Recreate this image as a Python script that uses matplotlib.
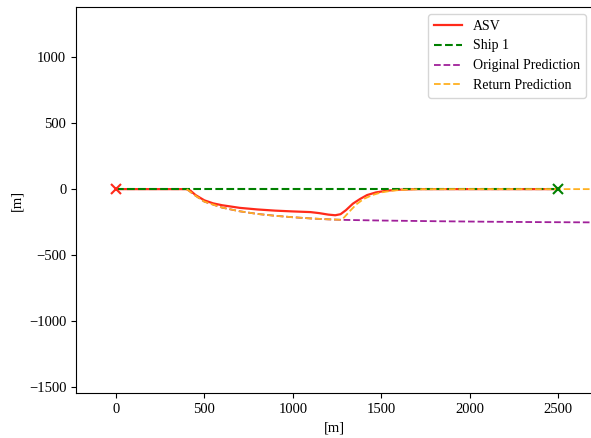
import numpy as np
import matplotlib
matplotlib.use("Agg")
import matplotlib.pyplot as plt

plt.rcParams['font.family'] = ['Liberation Serif', 'DejaVu Serif']
plt.rcParams['font.size'] = 10.5

# ASV trajectory
asv_x = [0, 100, 200, 300, 400, 420, 450, 500, 550, 600, 700, 800, 900, 1000, 1100, 1150, 1200, 1240, 1270,
         1300, 1340, 1380, 1420, 1470, 1530, 1600, 1700, 1900, 2100, 2300, 2500]
asv_y = [0, 0, 0, 0, 0, -10, -45, -85, -108, -122, -142, -154, -163, -169, -174, -182, -193, -198, -190,
         -160, -110, -75, -45, -25, -12, -4, 0, 0, 0, 0, 0]

# Ship 1 straight track
ship_x = [0, 2500]
ship_y = [0, 0]

# Original prediction
orig_x = [400, 450, 500, 600, 700, 800, 900, 1000, 1100, 1200, 1280, 1500, 1800, 2100, 2400, 2700]
orig_y = [0, -50, -95, -140, -168, -188, -202, -213, -222, -229, -233, -238, -243, -247, -250, -252]

# Return prediction
ret_x = [400, 450, 500, 600, 700, 800, 900, 1000, 1100, 1200, 1270, 1290, 1320, 1360, 1400, 1450,
         1500, 1560, 1620, 1700, 1900, 2100, 2300, 2500, 2700]
ret_y = [0, -50, -95, -140, -168, -188, -202, -213, -222, -229, -232, -215, -170, -115, -75, -45,
         -25, -12, -5, -1, 0, 0, 0, 0, 0]

fig = plt.figure(figsize=(5.91, 4.38), dpi=100)
ax = fig.add_axes([0.1286, 0.1027, 0.874, 0.8813])

ax.plot(asv_x, asv_y, color='#ff2a1a', lw=1.6, label='ASV', zorder=3)
ax.plot(ship_x, ship_y, '--', color='green', lw=1.5, label='Ship 1', zorder=3.5)
ax.plot(orig_x, orig_y, '--', color='#a0209a', lw=1.3, label='Original Prediction', zorder=2)
ax.plot(ret_x, ret_y, '--', color='#ffb020', lw=1.3, label='Return Prediction', zorder=4)

ax.plot(asv_x[0], asv_y[0], 'x', color='#ff2a1a', ms=7, mew=1.5, zorder=5)
ax.plot(ship_x[-1], ship_y[-1], 'x', color='green', ms=7, mew=1.5, zorder=5)

ax.set_xlim(-226, 2695)
ax.set_ylim(-1545, 1380)
ax.set_xticks([0, 500, 1000, 1500, 2000, 2500])
ax.set_yticks([-1500, -1000, -500, 0, 500, 1000])
ax.set_xlabel('[m]')
ax.set_ylabel('[m]')
ax.legend(loc='upper right', fontsize=10)

fig.savefig('out.png', dpi=100)
